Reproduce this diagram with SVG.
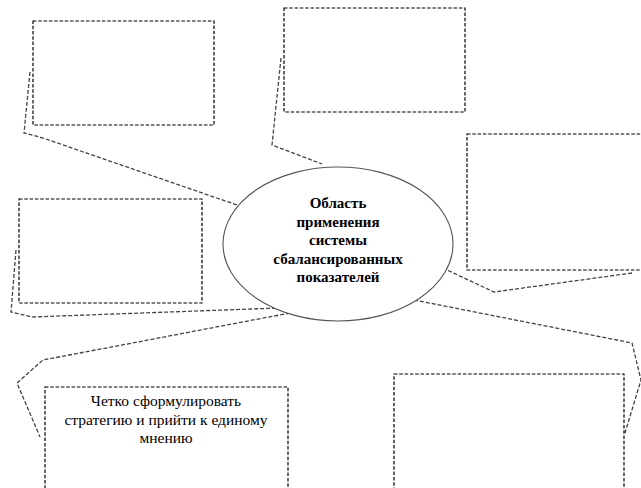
<svg xmlns="http://www.w3.org/2000/svg" width="641" height="488" viewBox="0 0 641 488">
<style>
.box{fill:#fff;stroke:#000;stroke-width:1.2;stroke-dasharray:3.5 1.8}
.con{fill:none;stroke:#444;stroke-width:1.3;stroke-dasharray:4 2}
.ell{fill:#fff;stroke:#555;stroke-width:1.1}
.t{font-family:"Liberation Serif","Times New Roman",serif;text-anchor:middle;fill:#000}
.b{font-weight:bold;font-size:15px}
.r{font-size:15.5px}
</style>
<rect width="641" height="488" fill="#fff"/>
<g id="connectors">
<polyline class="con" points="30,72 24,133 43,138 237,205"/>
<polyline class="con" points="281,58 272,145 322,164"/>
<polyline class="con" points="632,273 494,292 447,270"/>
<polyline class="con" points="16,250 11,312 32,317 279,308"/>
<polyline class="con" points="290,313 43,360 17,383 40,437"/>
<polyline class="con" points="414,300 632,343 641,380 625,433"/>
</g>
<g id="box1"><rect class="box" x="33" y="21" width="181" height="104"/></g>
<g id="box2"><rect class="box" x="284" y="8" width="181" height="104"/></g>
<g id="box3"><rect class="box" x="467" y="134" width="180" height="136"/></g>
<g id="box4"><rect class="box" x="19" y="199" width="183" height="104"/></g>
<g id="box5"><rect class="box" x="45" y="387" width="243" height="110"/>
<text class="t r" x="166" y="406">Четко сформулировать</text>
<text class="t r" x="166" y="424.5">стратегию и прийти к единому</text>
<text class="t r" x="166" y="443">мнению</text>
</g>
<g id="box6"><rect class="box" x="394" y="374" width="230" height="120"/></g>
<g id="center">
<ellipse class="ell" cx="338" cy="244" rx="115" ry="77"/>
<text class="t b" x="338" y="208">Область</text>
<text class="t b" x="338" y="226.5">применения</text>
<text class="t b" x="338" y="245">системы</text>
<text class="t b" x="338" y="263.5">сбалансированных</text>
<text class="t b" x="338" y="282">показателей</text>
</g>
</svg>
